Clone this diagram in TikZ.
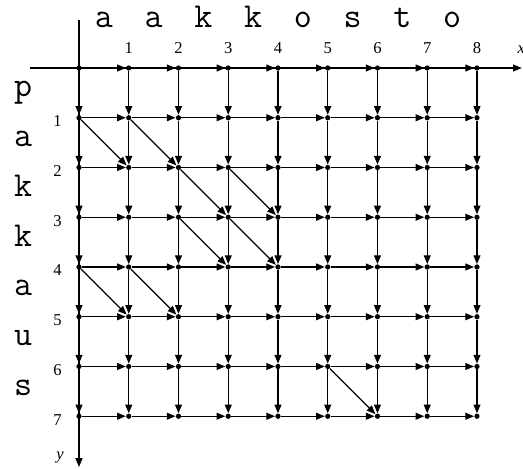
\documentclass[tikz,border=0pt]{standalone}
\usepackage{fontspec}
\setmainfont{Liberation Serif}
\usepackage{tikz}
\usetikzlibrary{arrows.meta}

\begin{document}
\begin{tikzpicture}[y=-1cm,
    dot/.style={circle, fill=black, inner sep=0pt, minimum size=3pt},
    link/.style={line width=0.7pt, -{Triangle[length=5pt,width=4pt]}},
    axisline/.style={line width=0.6pt},
    letter/.style={font=\fontsize{20}{20}\selectfont\ttfamily, anchor=mid, inner sep=0pt},
    num/.style={font=\fontsize{9.5}{10}\selectfont, inner sep=0pt}]
    \useasboundingbox (-1.588,-1.367) rectangle (8.925,8.06);

    % Axes
    \coordinate (xl) at (-0.985,0);
    \coordinate (xr) at (8.9,0);
    \coordinate (yt) at (0,-0.965);
    \coordinate (yb) at (0,8.02);
    \draw[axisline, -{Triangle[length=5pt,width=4pt]}] (xl) -- (xr);
    \draw[axisline, -{Triangle[length=5pt,width=4pt]}] (yt) -- (yb);
    \node[num, anchor=base] (xlab) at (8.89,-0.30) {\textit{x}};
    \node[num, anchor=base] (ylab) at (-0.38,7.86) {\textit{y}};

    % Grid points
    \foreach \i in {0,...,8}
        \foreach \j in {0,...,7}
            \node[dot] (q-\i-\j) at (\i,\j) {};

    % Horizontal moves
    \foreach \i/\k in {0/1,1/2,2/3,3/4,4/5,5/6,6/7,7/8}
        \foreach \j in {0,...,7}
            \draw[link] (q-\i-\j) -- (q-\k-\j);

    % Vertical moves
    \foreach \j/\k in {0/1,1/2,2/3,3/4,4/5,5/6,6/7}
        \foreach \i in {0,...,8}
            \draw[link] (q-\i-\j) -- (q-\i-\k);

    % Diagonal moves (matching letters)
    \foreach \i/\j in {0/1,1/1,2/2,3/2,2/3,3/3,0/4,1/4,5/6} {
        \pgfmathtruncatemacro{\ii}{\i+1}
        \pgfmathtruncatemacro{\jj}{\j+1}
        \draw[link] (q-\i-\j) -- (q-\ii-\jj);
    }

    % Axis numbers
    \foreach \i in {1,...,8}
        \node[num, anchor=base] (xn-\i) at (\i,-0.30) {\i};
    \foreach \j in {1,...,7}
        \node[num, anchor=base east] (yn-\j) at (-0.34,\j+0.18) {\j};

    % Words
    \foreach \c [count=\i] in {a,a,k,k,o,s,t,o}
        \node[letter] (top-\i) at (\i-0.5,-0.89) {\c};
    \foreach \c [count=\j] in {p,a,k,k,a,u,s}
        \node[letter] (left-\j) at (-1.125,\j-0.5) {\c};
\end{tikzpicture}
\end{document}
